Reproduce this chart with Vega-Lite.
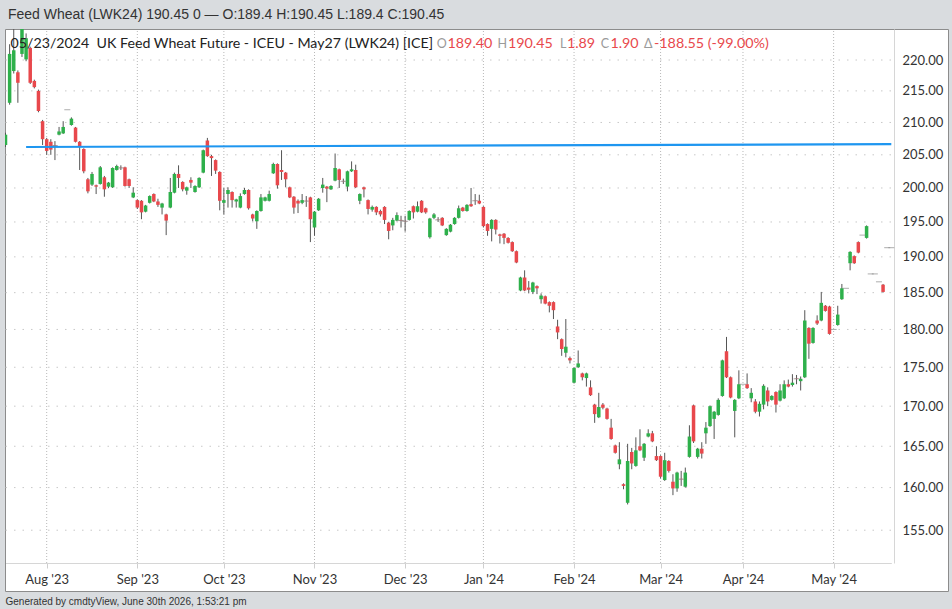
{
  "$schema": "https://vega.github.io/schema/vega-lite/v6.json",
  "width": 943,
  "height": 562,
  "padding": {"left": 4, "right": 5, "top": 7, "bottom": 3},
  "background": "#d9dcdf",
  "title": {"text": "Feed Wheat (LWK24) 190.45 0 — O:189.4 H:190.45 L:189.4 C:190.45", "anchor": "start", "frame": "group", "offset": 7, "dx": 3, "font": "Liberation Sans", "fontSize": 14, "fontWeight": "normal", "color": "#333333"},
  "config": {"view": {"fill": "white", "stroke": "#8c8c8c", "strokeWidth": 1}},
  "datasets": {
    "months": [{"d": "2023-08-01"}, {"d": "2023-09-01"}, {"d": "2023-10-02"}, {"d": "2023-11-01"}, {"d": "2023-12-01"}, {"d": "2024-01-02"}, {"d": "2024-02-01"}, {"d": "2024-03-01"}, {"d": "2024-04-01"}, {"d": "2024-05-01"}],
    "levels": [{"v": 155}, {"v": 160}, {"v": 165}, {"v": 170}, {"v": 175}, {"v": 180}, {"v": 185}, {"v": 190}, {"v": 195}, {"v": 200}, {"v": 205}, {"v": 210}, {"v": 215}, {"v": 220}],
    "trend": [{"d": "2023-07-25", "v": 206.2}, {"d": "2024-05-22", "v": 206.64}],
    "candles": [
      {"d":"2023-07-18","o":206.5,"h":208.4,"l":206.2,"c":208.1},
      {"d":"2023-07-19","o":213.1,"h":222.6,"l":212.8,"c":221.0},
      {"d":"2023-07-20","o":218.2,"h":225.5,"l":217.8,"c":221.6},
      {"d":"2023-07-21","o":218.0,"h":218.3,"l":213.1,"c":216.3},
      {"d":"2023-07-24","o":221.0,"h":226.0,"l":220.5,"c":225.5},
      {"d":"2023-07-25","o":220.1,"h":224.4,"l":219.8,"c":223.6},
      {"d":"2023-07-26","o":222.0,"h":222.2,"l":216.1,"c":216.3},
      {"d":"2023-07-27","o":216.6,"h":216.8,"l":215.4,"c":215.6},
      {"d":"2023-07-28","o":215.0,"h":215.2,"l":211.6,"c":211.8},
      {"d":"2023-07-31","o":210.2,"h":210.4,"l":206.5,"c":207.4},
      {"d":"2023-08-01","o":207.4,"h":207.6,"l":205.0,"c":205.6},
      {"d":"2023-08-02","o":207.0,"h":207.4,"l":205.0,"c":205.8},
      {"d":"2023-08-03","o":206.5,"h":207.1,"l":204.2,"c":206.4},
      {"d":"2023-08-04","o":208.1,"h":209.3,"l":208.0,"c":208.6},
      {"d":"2023-08-07","o":208.3,"h":210.2,"l":208.2,"c":209.3},
      {"d":"2023-08-08","o":212.0,"h":212.0,"l":212.0,"c":212.0},
      {"d":"2023-08-09","o":209.6,"h":210.8,"l":209.5,"c":210.6},
      {"d":"2023-08-10","o":209.2,"h":209.3,"l":206.9,"c":207.0},
      {"d":"2023-08-11","o":207.0,"h":207.1,"l":202.7,"c":206.2},
      {"d":"2023-08-14","o":205.9,"h":206.0,"l":202.2,"c":202.5},
      {"d":"2023-08-15","o":201.3,"h":201.5,"l":199.2,"c":199.5},
      {"d":"2023-08-16","o":200.5,"h":202.4,"l":200.3,"c":202.1},
      {"d":"2023-08-17","o":200.4,"h":200.5,"l":199.1,"c":200.2},
      {"d":"2023-08-18","o":200.6,"h":203.3,"l":200.5,"c":203.1},
      {"d":"2023-08-21","o":201.6,"h":201.8,"l":198.7,"c":199.8},
      {"d":"2023-08-22","o":200.2,"h":200.9,"l":200.0,"c":200.8},
      {"d":"2023-08-23","o":200.1,"h":203.1,"l":200.0,"c":203.0},
      {"d":"2023-08-24","o":202.7,"h":203.5,"l":202.6,"c":203.3},
      {"d":"2023-08-25","o":203.05,"h":203.4,"l":202.7,"c":203.0},
      {"d":"2023-08-29","o":203.1,"h":203.2,"l":200.2,"c":200.3},
      {"d":"2023-08-30","o":201.3,"h":201.4,"l":200.0,"c":200.3},
      {"d":"2023-08-31","o":198.6,"h":200.1,"l":198.5,"c":199.3},
      {"d":"2023-09-01","o":198.2,"h":198.3,"l":196.9,"c":197.1},
      {"d":"2023-09-04","o":198.1,"h":198.2,"l":195.4,"c":196.4},
      {"d":"2023-09-05","o":196.5,"h":197.5,"l":196.4,"c":197.4},
      {"d":"2023-09-06","o":197.8,"h":198.9,"l":197.7,"c":198.8},
      {"d":"2023-09-07","o":199.1,"h":199.2,"l":197.9,"c":198.0},
      {"d":"2023-09-08","o":198.0,"h":198.4,"l":197.2,"c":197.5},
      {"d":"2023-09-11","o":197.1,"h":197.8,"l":196.1,"c":197.7},
      {"d":"2023-09-12","o":196.1,"h":196.2,"l":193.1,"c":195.2},
      {"d":"2023-09-13","o":197.1,"h":201.5,"l":197.0,"c":199.4},
      {"d":"2023-09-14","o":199.3,"h":202.3,"l":199.2,"c":202.1},
      {"d":"2023-09-15","o":202.1,"h":203.4,"l":200.0,"c":201.5},
      {"d":"2023-09-18","o":200.9,"h":201.0,"l":199.5,"c":199.8},
      {"d":"2023-09-19","o":199.6,"h":200.2,"l":199.0,"c":200.1},
      {"d":"2023-09-20","o":201.2,"h":201.6,"l":200.0,"c":200.8},
      {"d":"2023-09-21","o":199.4,"h":200.4,"l":199.3,"c":200.3},
      {"d":"2023-09-22","o":200.1,"h":201.6,"l":200.0,"c":201.5},
      {"d":"2023-09-25","o":202.3,"h":205.8,"l":202.2,"c":205.7},
      {"d":"2023-09-26","o":207.2,"h":207.6,"l":204.7,"c":204.8},
      {"d":"2023-09-27","o":204.8,"h":205.0,"l":201.8,"c":204.5},
      {"d":"2023-09-28","o":204.2,"h":204.3,"l":202.1,"c":202.6},
      {"d":"2023-09-29","o":202.4,"h":202.5,"l":196.7,"c":198.1},
      {"d":"2023-10-02","o":197.8,"h":200.0,"l":196.1,"c":198.2},
      {"d":"2023-10-03","o":199.1,"h":200.1,"l":197.1,"c":199.7},
      {"d":"2023-10-04","o":199.4,"h":199.5,"l":197.1,"c":198.2},
      {"d":"2023-10-05","o":198.0,"h":198.4,"l":197.1,"c":198.3},
      {"d":"2023-10-06","o":197.1,"h":199.2,"l":197.0,"c":198.8},
      {"d":"2023-10-09","o":199.1,"h":200.0,"l":199.0,"c":199.7},
      {"d":"2023-10-10","o":199.7,"h":199.8,"l":196.8,"c":197.0},
      {"d":"2023-10-11","o":196.1,"h":196.2,"l":195.1,"c":195.5},
      {"d":"2023-10-12","o":195.1,"h":196.7,"l":194.0,"c":196.6},
      {"d":"2023-10-13","o":196.6,"h":199.1,"l":196.5,"c":198.6},
      {"d":"2023-10-16","o":198.1,"h":198.7,"l":198.0,"c":198.6},
      {"d":"2023-10-17","o":198.1,"h":199.6,"l":198.0,"c":199.1},
      {"d":"2023-10-18","o":202.2,"h":203.8,"l":202.1,"c":203.6},
      {"d":"2023-10-19","o":203.6,"h":203.7,"l":199.9,"c":200.4},
      {"d":"2023-10-20","o":202.7,"h":205.7,"l":201.2,"c":202.4},
      {"d":"2023-10-23","o":202.3,"h":202.4,"l":200.1,"c":201.3},
      {"d":"2023-10-24","o":200.1,"h":200.2,"l":198.5,"c":198.6},
      {"d":"2023-10-25","o":198.7,"h":198.8,"l":196.2,"c":197.1},
      {"d":"2023-10-26","o":198.1,"h":198.3,"l":196.3,"c":197.7},
      {"d":"2023-10-27","o":197.8,"h":199.1,"l":197.6,"c":198.2},
      {"d":"2023-10-30","o":198.1,"h":198.8,"l":197.2,"c":198.05},
      {"d":"2023-10-31","o":198.6,"h":198.7,"l":192.1,"c":195.4},
      {"d":"2023-11-01","o":194.2,"h":196.6,"l":193.0,"c":196.5},
      {"d":"2023-11-02","o":196.7,"h":198.5,"l":196.6,"c":198.4},
      {"d":"2023-11-03","o":200.0,"h":201.5,"l":199.3,"c":200.5},
      {"d":"2023-11-06","o":200.2,"h":200.3,"l":197.9,"c":199.9},
      {"d":"2023-11-07","o":199.8,"h":200.4,"l":199.7,"c":200.3},
      {"d":"2023-11-08","o":201.1,"h":205.2,"l":201.0,"c":203.0},
      {"d":"2023-11-09","o":202.8,"h":202.9,"l":200.0,"c":201.2},
      {"d":"2023-11-10","o":201.05,"h":201.4,"l":200.6,"c":201.0},
      {"d":"2023-11-13","o":200.2,"h":202.6,"l":199.5,"c":202.5},
      {"d":"2023-11-14","o":202.5,"h":204.0,"l":202.4,"c":202.8},
      {"d":"2023-11-15","o":202.7,"h":203.5,"l":200.0,"c":200.1},
      {"d":"2023-11-16","o":198.1,"h":199.2,"l":197.6,"c":199.1},
      {"d":"2023-11-17","o":200.1,"h":200.2,"l":198.6,"c":199.8},
      {"d":"2023-11-20","o":198.2,"h":198.3,"l":196.1,"c":196.9},
      {"d":"2023-11-21","o":196.8,"h":197.4,"l":196.5,"c":197.2},
      {"d":"2023-11-22","o":197.2,"h":197.3,"l":196.0,"c":196.4},
      {"d":"2023-11-23","o":196.6,"h":196.8,"l":195.8,"c":196.1},
      {"d":"2023-11-24","o":197.2,"h":197.3,"l":194.7,"c":195.3},
      {"d":"2023-11-27","o":194.9,"h":195.0,"l":192.5,"c":193.7},
      {"d":"2023-11-28","o":194.5,"h":195.6,"l":193.8,"c":195.3},
      {"d":"2023-11-29","o":195.2,"h":196.4,"l":195.1,"c":196.0},
      {"d":"2023-11-30","o":195.3,"h":195.9,"l":194.2,"c":195.2},
      {"d":"2023-12-01","o":195.15,"h":195.9,"l":193.6,"c":195.1},
      {"d":"2023-12-04","o":195.3,"h":196.7,"l":195.2,"c":196.6},
      {"d":"2023-12-05","o":197.3,"h":197.4,"l":195.5,"c":196.4},
      {"d":"2023-12-06","o":196.5,"h":198.0,"l":196.4,"c":197.3},
      {"d":"2023-12-07","o":198.1,"h":198.2,"l":196.3,"c":196.4},
      {"d":"2023-12-08","o":197.0,"h":197.1,"l":196.2,"c":196.4},
      {"d":"2023-12-11","o":192.8,"h":195.6,"l":192.6,"c":195.5},
      {"d":"2023-12-12","o":195.6,"h":196.3,"l":195.4,"c":196.1},
      {"d":"2023-12-13","o":195.35,"h":195.7,"l":195.0,"c":195.3},
      {"d":"2023-12-14","o":195.6,"h":195.7,"l":194.4,"c":194.5},
      {"d":"2023-12-15","o":193.1,"h":194.1,"l":193.0,"c":194.0},
      {"d":"2023-12-18","o":193.6,"h":194.7,"l":193.5,"c":194.6},
      {"d":"2023-12-19","o":194.7,"h":195.7,"l":194.6,"c":195.6},
      {"d":"2023-12-20","o":195.6,"h":197.4,"l":195.5,"c":197.0},
      {"d":"2023-12-21","o":197.1,"h":197.2,"l":196.5,"c":196.6},
      {"d":"2023-12-22","o":196.6,"h":197.6,"l":196.5,"c":197.5},
      {"d":"2023-12-27","o":197.6,"h":200.0,"l":197.2,"c":197.3},
      {"d":"2023-12-28","o":198.15,"h":199.1,"l":197.5,"c":198.1},
      {"d":"2023-12-29","o":198.1,"h":199.0,"l":197.6,"c":197.7},
      {"d":"2024-01-02","o":197.2,"h":197.3,"l":194.2,"c":194.4},
      {"d":"2024-01-03","o":194.7,"h":194.8,"l":193.0,"c":193.7},
      {"d":"2024-01-04","o":194.0,"h":195.4,"l":192.2,"c":195.3},
      {"d":"2024-01-05","o":195.3,"h":195.4,"l":193.2,"c":193.9},
      {"d":"2024-01-08","o":193.2,"h":193.3,"l":191.9,"c":193.0},
      {"d":"2024-01-09","o":193.3,"h":193.4,"l":191.8,"c":192.7},
      {"d":"2024-01-10","o":192.7,"h":192.8,"l":191.9,"c":192.0},
      {"d":"2024-01-11","o":192.1,"h":192.2,"l":190.7,"c":190.8},
      {"d":"2024-01-12","o":190.8,"h":190.9,"l":189.1,"c":189.2},
      {"d":"2024-01-15","o":185.3,"h":187.2,"l":185.2,"c":187.1},
      {"d":"2024-01-16","o":187.1,"h":188.1,"l":185.2,"c":185.3},
      {"d":"2024-01-17","o":185.7,"h":186.6,"l":184.9,"c":185.4},
      {"d":"2024-01-18","o":185.1,"h":186.5,"l":184.8,"c":186.4},
      {"d":"2024-01-19","o":185.9,"h":186.0,"l":184.8,"c":185.6},
      {"d":"2024-01-22","o":184.1,"h":184.9,"l":183.5,"c":184.6},
      {"d":"2024-01-23","o":184.5,"h":184.6,"l":183.4,"c":183.5},
      {"d":"2024-01-24","o":183.7,"h":183.8,"l":182.3,"c":183.2},
      {"d":"2024-01-25","o":183.7,"h":183.8,"l":181.4,"c":182.6},
      {"d":"2024-01-26","o":180.4,"h":181.3,"l":178.7,"c":179.6},
      {"d":"2024-01-29","o":178.7,"h":178.8,"l":176.5,"c":177.4},
      {"d":"2024-01-30","o":176.9,"h":181.4,"l":176.3,"c":177.7},
      {"d":"2024-01-31","o":176.2,"h":176.4,"l":175.5,"c":175.9},
      {"d":"2024-02-01","o":173.0,"h":175.0,"l":172.9,"c":174.9},
      {"d":"2024-02-02","o":175.0,"h":177.2,"l":174.9,"c":175.5},
      {"d":"2024-02-05","o":174.2,"h":174.3,"l":173.3,"c":173.7},
      {"d":"2024-02-06","o":173.6,"h":174.3,"l":172.5,"c":174.2},
      {"d":"2024-02-07","o":172.4,"h":173.3,"l":171.3,"c":171.4},
      {"d":"2024-02-08","o":170.2,"h":170.3,"l":167.9,"c":169.0},
      {"d":"2024-02-09","o":168.6,"h":171.7,"l":168.5,"c":169.9},
      {"d":"2024-02-12","o":170.2,"h":170.4,"l":169.6,"c":169.8},
      {"d":"2024-02-13","o":169.7,"h":169.8,"l":168.3,"c":168.4},
      {"d":"2024-02-14","o":167.3,"h":168.4,"l":165.8,"c":165.9},
      {"d":"2024-02-15","o":165.1,"h":165.2,"l":164.1,"c":164.2},
      {"d":"2024-02-16","o":162.8,"h":165.5,"l":162.2,"c":163.4},
      {"d":"2024-02-19","o":160.4,"h":160.5,"l":159.8,"c":160.2},
      {"d":"2024-02-20","o":158.2,"h":165.3,"l":158.0,"c":163.2},
      {"d":"2024-02-21","o":164.3,"h":164.8,"l":162.2,"c":162.9},
      {"d":"2024-02-22","o":162.6,"h":166.1,"l":162.5,"c":164.5},
      {"d":"2024-02-23","o":165.0,"h":167.1,"l":164.4,"c":164.5},
      {"d":"2024-02-26","o":163.6,"h":165.4,"l":163.2,"c":165.3},
      {"d":"2024-02-27","o":166.2,"h":167.1,"l":166.1,"c":166.6},
      {"d":"2024-02-28","o":166.6,"h":166.9,"l":165.5,"c":165.6},
      {"d":"2024-02-29","o":163.8,"h":165.0,"l":163.2,"c":163.3},
      {"d":"2024-03-01","o":163.8,"h":163.9,"l":161.1,"c":161.3},
      {"d":"2024-03-04","o":160.9,"h":164.2,"l":160.8,"c":163.3},
      {"d":"2024-03-05","o":163.2,"h":163.3,"l":161.8,"c":162.0},
      {"d":"2024-03-06","o":160.7,"h":161.6,"l":159.1,"c":159.9},
      {"d":"2024-03-07","o":159.9,"h":161.9,"l":159.5,"c":161.8},
      {"d":"2024-03-08","o":161.05,"h":162.0,"l":160.2,"c":161.0},
      {"d":"2024-03-11","o":160.1,"h":162.4,"l":160.0,"c":161.8},
      {"d":"2024-03-12","o":163.7,"h":167.6,"l":163.6,"c":166.2},
      {"d":"2024-03-13","o":170.1,"h":170.2,"l":165.4,"c":165.6},
      {"d":"2024-03-14","o":163.7,"h":164.8,"l":163.5,"c":164.7},
      {"d":"2024-03-15","o":164.7,"h":165.5,"l":163.5,"c":164.1},
      {"d":"2024-03-18","o":166.6,"h":168.0,"l":165.3,"c":167.3},
      {"d":"2024-03-19","o":167.5,"h":170.1,"l":167.4,"c":170.0},
      {"d":"2024-03-20","o":168.4,"h":169.4,"l":165.9,"c":169.3},
      {"d":"2024-03-21","o":168.9,"h":171.0,"l":168.8,"c":170.8},
      {"d":"2024-03-22","o":171.3,"h":176.0,"l":171.2,"c":175.9},
      {"d":"2024-03-25","o":177.1,"h":179.0,"l":173.6,"c":173.7},
      {"d":"2024-03-26","o":173.7,"h":173.8,"l":171.0,"c":171.1},
      {"d":"2024-03-27","o":169.4,"h":170.9,"l":166.1,"c":170.8},
      {"d":"2024-03-28","o":171.0,"h":174.6,"l":170.9,"c":172.8},
      {"d":"2024-04-01","o":172.8,"h":172.8,"l":172.8,"c":172.8},
      {"d":"2024-04-02","o":172.8,"h":174.2,"l":172.2,"c":172.3},
      {"d":"2024-04-03","o":171.0,"h":172.3,"l":170.5,"c":171.7},
      {"d":"2024-04-04","o":170.6,"h":170.9,"l":169.1,"c":169.3},
      {"d":"2024-04-05","o":169.3,"h":170.6,"l":168.7,"c":170.3},
      {"d":"2024-04-08","o":170.2,"h":172.8,"l":169.6,"c":172.6},
      {"d":"2024-04-09","o":172.0,"h":172.4,"l":170.0,"c":170.6},
      {"d":"2024-04-10","o":170.8,"h":171.4,"l":170.7,"c":171.3},
      {"d":"2024-04-11","o":171.8,"h":171.9,"l":169.2,"c":170.2},
      {"d":"2024-04-12","o":170.7,"h":172.8,"l":170.6,"c":172.0},
      {"d":"2024-04-15","o":171.0,"h":173.3,"l":170.9,"c":172.8},
      {"d":"2024-04-16","o":172.8,"h":173.4,"l":172.4,"c":172.5},
      {"d":"2024-04-17","o":172.7,"h":174.1,"l":172.5,"c":173.0},
      {"d":"2024-04-18","o":173.55,"h":174.0,"l":172.8,"c":173.5},
      {"d":"2024-04-19","o":173.2,"h":173.8,"l":172.0,"c":173.5},
      {"d":"2024-04-22","o":173.7,"h":182.6,"l":173.6,"c":181.2},
      {"d":"2024-04-23","o":180.2,"h":180.3,"l":176.1,"c":178.1},
      {"d":"2024-04-24","o":178.2,"h":180.3,"l":178.1,"c":180.2},
      {"d":"2024-04-25","o":181.2,"h":181.9,"l":180.6,"c":180.8},
      {"d":"2024-04-26","o":181.2,"h":185.1,"l":181.1,"c":183.6},
      {"d":"2024-04-29","o":183.2,"h":183.3,"l":182.4,"c":182.5},
      {"d":"2024-04-30","o":183.1,"h":183.2,"l":179.3,"c":179.4},
      {"d":"2024-05-01","o":180.0,"h":180.0,"l":180.0,"c":180.0},
      {"d":"2024-05-02","o":180.6,"h":183.2,"l":180.5,"c":182.0},
      {"d":"2024-05-03","o":184.1,"h":186.2,"l":184.0,"c":185.6},
      {"d":"2024-05-07","o":185.6,"h":185.6,"l":185.6,"c":185.6},
      {"d":"2024-05-08","o":189.1,"h":190.8,"l":188.1,"c":190.7},
      {"d":"2024-05-09","o":190.1,"h":190.2,"l":189.0,"c":189.1},
      {"d":"2024-05-10","o":192.1,"h":192.2,"l":190.5,"c":190.6},
      {"d":"2024-05-13","o":193.1,"h":193.1,"l":193.1,"c":193.1},
      {"d":"2024-05-14","o":192.7,"h":194.5,"l":192.6,"c":194.4},
      {"d":"2024-05-15","o":187.6,"h":187.6,"l":187.6,"c":187.6},
      {"d":"2024-05-16","o":187.6,"h":187.6,"l":187.6,"c":187.6},
      {"d":"2024-05-17","o":186.5,"h":186.5,"l":186.5,"c":186.5},
      {"d":"2024-05-20","o":186.1,"h":186.2,"l":185.0,"c":185.1},
      {"d":"2024-05-21","o":191.3,"h":191.3,"l":191.3,"c":191.3},
      {"d":"2024-05-22","o":191.3,"h":191.3,"l":191.3,"c":191.3}
    ]
  },
  "layer": [
    {
      "data": {"name": "months"},
      "mark": {"type": "rule", "color": "#b8b8b8", "strokeDash": [1, 2], "strokeWidth": 1},
      "encoding": {
        "x": {"field": "d", "type": "ordinal"},
        "y": {"datum": 151.26},
        "y2": {"datum": 225.14}
      }
    },
    {
      "data": {"name": "levels"},
      "mark": {"type": "rule", "color": "#c8c8c8", "strokeDash": [1.5, 7], "strokeWidth": 1},
      "encoding": {
        "y": {"field": "v", "type": "quantitative"},
        "x": {"datum": "2023-07-18", "type": "ordinal"},
        "x2": {"datum": "2024-05-22"}
      }
    },
    {
      "data": {"name": "candles"},
      "mark": {"type": "rule", "color": "#555555", "strokeWidth": 1, "clip": true},
      "encoding": {
        "x": {
          "field": "d", "type": "ordinal",
          "scale": {"type": "point", "range": [0.5, 886.3], "padding": 0},
          "axis": {
            "values": ["2023-08-01", "2023-09-01", "2023-10-02", "2023-11-01", "2023-12-01", "2024-01-02", "2024-02-01", "2024-03-01", "2024-04-01", "2024-05-01"],
            "labelExpr": "utcFormat(toDate(datum.value), \"%b '%y\")",
            "labelAngle": 0, "labelAlign": "center", "labelBaseline": "top", "grid": false, "offset": -28,
            "domainColor": "#d6d6d6", "tickColor": "#cfcfcf", "tickSize": 5,
            "labelFont": "Lato", "labelFontSize": 13, "labelColor": "#333333", "labelPadding": 5,
            "title": "Generated by cmdtyView, June 30th 2026, 1:53:21 pm",
            "titleFont": "Liberation Sans", "titleFontSize": 10, "titleFontWeight": "normal", "titleColor": "#333333",
            "titleAnchor": "start", "titleAlign": "left", "titleX": 0, "titleY": 41, "titleBaseline": "alphabetic"
          }
        },
        "y": {
          "field": "l", "type": "quantitative",
          "scale": {"type": "log", "domain": [151.26, 225.14], "range": [534, 0], "nice": false},
          "axis": {
            "orient": "right", "offset": -54, "values": [155, 160, 165, 170, 175, 180, 185, 190, 195, 200, 205, 210, 215, 220],
            "format": ".2f", "ticks": false, "tickSize": 0, "grid": false, "domainColor": "#d6d6d6",
            "labelFont": "Lato", "labelFontSize": 13, "labelColor": "#333333", "labelPadding": 8, "title": null
          }
        },
        "y2": {"field": "h"}
      }
    },
    {
      "data": {"name": "candles"},
      "mark": {"type": "bar", "size": 3.5, "clip": true},
      "encoding": {
        "x": {"field": "d", "type": "ordinal"},
        "y": {"field": "o", "type": "quantitative"},
        "y2": {"field": "c"},
        "color": {"condition": {"test": "datum.c >= datum.o", "value": "#2eb04b"}, "value": "#e8484c"}
      }
    },
    {
      "data": {"name": "candles"},
      "transform": [{"filter": "abs(datum.c - datum.o) < 0.15"}],
      "mark": {"type": "tick", "size": 6, "thickness": 1, "color": "#8a8a8a", "clip": true},
      "encoding": {
        "x": {"field": "d", "type": "ordinal"},
        "y": {"field": "c", "type": "quantitative"}
      }
    },
    {
      "data": {"name": "trend"},
      "mark": {"type": "line", "color": "#1e96f0", "strokeWidth": 2.2},
      "encoding": {
        "x": {"field": "d", "type": "ordinal"},
        "y": {"field": "v", "type": "quantitative"}
      }
    },
    {
      "data": {"values": [{"t": "05/23/2024\u00a0 UK Feed Wheat Future - ICEU - May27 (LWK24) [ICE]"}]},
      "mark": {"type": "text", "align": "left", "baseline": "alphabetic", "font": "Lato", "fontSize": 14.2, "color": "#222222", "dx": 1},
      "encoding": {"x": {"datum": "2023-07-19", "type": "ordinal"}, "y": {"datum": 222.0}, "text": {"field": "t"}}
    },
    {
      "data": {"values": [{"t": "O"}]},
      "mark": {"type": "text", "align": "left", "baseline": "alphabetic", "font": "Lato", "fontSize": 12.5, "color": "#9a9a9a", "dx": -1.3},
      "encoding": {"x": {"datum": "2023-12-13", "type": "ordinal"}, "y": {"datum": 222.0}, "text": {"field": "t"}}
    },
    {
      "data": {"values": [{"t": "189.40"}]},
      "mark": {"type": "text", "align": "left", "baseline": "alphabetic", "font": "Lato", "fontSize": 14.3, "color": "#e8484c", "dx": 9.4},
      "encoding": {"x": {"datum": "2023-12-13", "type": "ordinal"}, "y": {"datum": 222.0}, "text": {"field": "t"}}
    },
    {
      "data": {"values": [{"t": "H"}]},
      "mark": {"type": "text", "align": "left", "baseline": "alphabetic", "font": "Lato", "fontSize": 12.5, "color": "#9a9a9a", "dx": 59.4},
      "encoding": {"x": {"datum": "2023-12-13", "type": "ordinal"}, "y": {"datum": 222.0}, "text": {"field": "t"}}
    },
    {
      "data": {"values": [{"t": "190.45"}]},
      "mark": {"type": "text", "align": "left", "baseline": "alphabetic", "font": "Lato", "fontSize": 14.3, "color": "#e8484c", "dx": 69.8},
      "encoding": {"x": {"datum": "2023-12-13", "type": "ordinal"}, "y": {"datum": 222.0}, "text": {"field": "t"}}
    },
    {
      "data": {"values": [{"t": "L"}]},
      "mark": {"type": "text", "align": "left", "baseline": "alphabetic", "font": "Lato", "fontSize": 12.5, "color": "#9a9a9a", "dx": 122.0},
      "encoding": {"x": {"datum": "2023-12-13", "type": "ordinal"}, "y": {"datum": 222.0}, "text": {"field": "t"}}
    },
    {
      "data": {"values": [{"t": "1.89"}]},
      "mark": {"type": "text", "align": "left", "baseline": "alphabetic", "font": "Lato", "fontSize": 14.3, "color": "#e8484c", "dx": 128.8},
      "encoding": {"x": {"datum": "2023-12-13", "type": "ordinal"}, "y": {"datum": 222.0}, "text": {"field": "t"}}
    },
    {
      "data": {"values": [{"t": "C"}]},
      "mark": {"type": "text", "align": "left", "baseline": "alphabetic", "font": "Lato", "fontSize": 12.5, "color": "#9a9a9a", "dx": 162.7},
      "encoding": {"x": {"datum": "2023-12-13", "type": "ordinal"}, "y": {"datum": 222.0}, "text": {"field": "t"}}
    },
    {
      "data": {"values": [{"t": "1.90"}]},
      "mark": {"type": "text", "align": "left", "baseline": "alphabetic", "font": "Lato", "fontSize": 14.3, "color": "#e8484c", "dx": 172.3},
      "encoding": {"x": {"datum": "2023-12-13", "type": "ordinal"}, "y": {"datum": 222.0}, "text": {"field": "t"}}
    },
    {
      "data": {"values": [{"t": "Δ"}]},
      "mark": {"type": "text", "align": "left", "baseline": "alphabetic", "font": "Lato", "fontSize": 12.5, "color": "#9a9a9a", "dx": 206.0},
      "encoding": {"x": {"datum": "2023-12-13", "type": "ordinal"}, "y": {"datum": 222.0}, "text": {"field": "t"}}
    },
    {
      "data": {"values": [{"t": "-188.55 (-99.00%)"}]},
      "mark": {"type": "text", "align": "left", "baseline": "alphabetic", "font": "Lato", "fontSize": 14.3, "color": "#e8484c", "dx": 215.9},
      "encoding": {"x": {"datum": "2023-12-13", "type": "ordinal"}, "y": {"datum": 222.0}, "text": {"field": "t"}}
    }
  ]
}
